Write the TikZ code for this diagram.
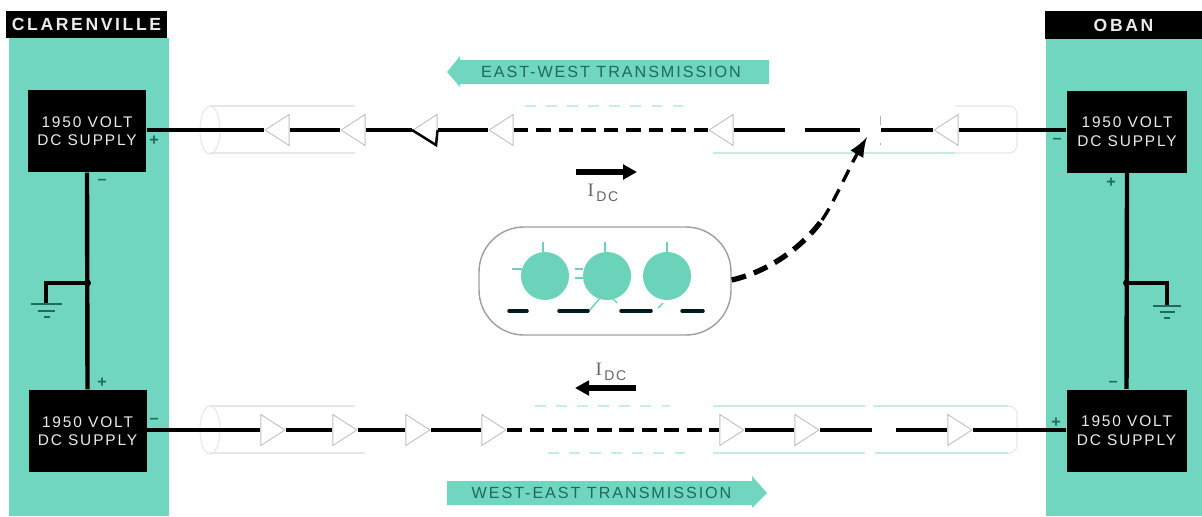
\documentclass[tikz,border=0pt]{standalone}
\usepackage{fontspec}
\usetikzlibrary{shapes.geometric,arrows.meta}
\newfontfamily\platefont[LetterSpace=12]{Liberation Sans}
\newfontfamily\headfont[LetterSpace=15]{Liberation Sans}
\newfontfamily\idcfont{Liberation Serif}
\definecolor{bandteal}{HTML}{70D6C0}
\definecolor{tubeteal}{HTML}{6AD3BA}
\definecolor{darkteal}{HTML}{1E6A5E}
\definecolor{palecable}{HTML}{E4E8E7}
\definecolor{tealcable}{HTML}{C4EEE4}
\tikzset{
  supply/.style={fill=black,text=white!92!black,minimum width=1.18cm,minimum height=0.82cm,inner sep=0,align=center,font=\platefont\fontsize{4.4}{5.3}\selectfont},
  header/.style={fill=black,text=white!92!black,minimum width=1.6cm,minimum height=0.275cm,inner sep=0,font=\headfont\bfseries\fontsize{5}{5}\selectfont},
  polarity/.style={text=darkteal,inner sep=0,font=\platefont\bfseries\fontsize{4.6}{5}\selectfont},
  amp/.style={isosceles triangle,isosceles triangle stretches,minimum width=0.31cm,minimum height=0.24cm,inner sep=0,draw=black!25,line width=0.25pt,anchor=apex},
  ampwest/.style={amp,shape border rotate=180},
  ampeast/.style={amp,shape border rotate=0},
  wire/.style={line width=1.25pt},
  wiredash/.style={line width=1.25pt,dash pattern=on 4.2pt off 2.2pt},
  cablepale/.style={palecable,line width=0.3pt},
  cableteal/.style={tealcable,line width=0.6pt},
  idcarrow/.style={line width=1.6pt,-{Triangle[length=1.4mm,width=1.45mm]}},
  idclabel/.style={text=black!60,inner sep=0,font=\platefont\fontsize{4}{5}\selectfont},
  bannertext/.style={text=darkteal,inner sep=0,font=\platefont\fontsize{4.6}{5}\selectfont},
  valve/.style={circle,fill=tubeteal,minimum size=0.48cm,inner sep=0},
  lead/.style={tubeteal,line width=0.4pt},
  plate/.style={black!80!teal,line width=1pt,line cap=round},
}
\newcommand{\idctext}{{\idcfont\fontsize{5.4}{5}\selectfont I}\,\raisebox{-1.5pt}{DC}}
\begin{document}
\begin{tikzpicture}
\useasboundingbox (0,0) rectangle (12.02,5.16);
% draw station bands
\fill[bandteal] (0.09,0) rectangle (1.69,4.78);
\fill[bandteal] (10.46,0) rectangle (12.02,4.78);
\node[header,minimum width=1.61cm] (clarenville) at (0.865,4.915) {CLARENVILLE};
\node[header,minimum width=1.57cm] (oban) at (11.235,4.91) {OBAN};
% draw supplies
\node[supply] (supplynw) at (0.87,3.85) {1950 VOLT\\DC SUPPLY};
\node[supply] (supplysw) at (0.875,0.85) {1950 VOLT\\DC SUPPLY};
\node[supply,minimum width=1.2cm] (supplyne) at (11.27,3.845) {1950 VOLT\\DC SUPPLY};
\node[supply,minimum width=1.2cm] (supplyse) at (11.265,0.855) {1950 VOLT\\DC SUPPLY};
\node[polarity] (plusnw) at (1.54,3.75) {+};
\node[polarity] (minusnw) at (1.02,3.34) {–};
\node[polarity] (plussw) at (1.02,1.33) {+};
\node[polarity] (minussw) at (1.54,0.95) {–};
\node[polarity] (minusne) at (10.57,3.75) {–};
\node[polarity] (plusne) at (11.11,3.33) {+};
\node[polarity] (minusse) at (11.13,1.32) {–};
\node[polarity] (plusse) at (10.56,0.93) {+};
% draw earth connections
\coordinate (joinw) at (0.875,2.33);
\coordinate (joine) at (11.265,2.33);
\coordinate (earthw) at (0.46,2.12);
\coordinate (earthe) at (11.67,2.10);
\draw[wire] (supplynw.south) -- (supplysw.north);
\draw[wire] (supplyne.south) -- (supplyse.north);
\fill (joinw) circle (0.035);
\fill (joine) circle (0.035);
\draw[line width=0.9pt] (joinw) -| (earthw);
\draw[line width=0.9pt] (joine) -| (earthe);
\draw[darkteal,line width=0.5pt] (0.31,2.12) -- (0.62,2.12);
\draw[darkteal,line width=0.5pt] (0.38,2.05) -- (0.55,2.05);
\draw[darkteal,line width=0.5pt] (0.44,1.99) -- (0.50,1.99);
\draw[darkteal,line width=0.5pt] (11.53,2.10) -- (11.81,2.10);
\draw[darkteal,line width=0.5pt] (11.60,2.04) -- (11.75,2.04);
\draw[darkteal,line width=0.5pt] (11.64,1.98) -- (11.70,1.98);
% draw cable outlines
\node[draw=palecable,line width=0.3pt,ellipse,minimum width=0.2cm,minimum height=0.48cm,inner sep=0] (cableendnw) at (2.10,3.86) {};
\node[draw=palecable,line width=0.3pt,ellipse,minimum width=0.2cm,minimum height=0.48cm,inner sep=0] (cableendsw) at (2.10,0.86) {};
\draw[cablepale] (2.10,4.10) -- (3.55,4.10);
\draw[cablepale] (2.10,3.63) -- (3.55,3.63);
\draw[cablepale] (2.10,1.10) -- (3.55,1.10);
\draw[cablepale] (2.10,0.63) -- (3.65,0.63);
\draw[cablepale,rounded corners=0.08cm] (9.55,4.10) -- (10.17,4.10) -- (10.17,3.63) -- (9.55,3.63);
\draw[cablepale,rounded corners=0.08cm] (9.55,1.10) -- (10.17,1.10) -- (10.17,0.63) -- (9.55,0.63);
\draw[cableteal,dashed] (5.25,4.10) -- (6.88,4.10);
\draw[cableteal] (7.13,3.63) -- (8.80,3.63);
\draw[cableteal,line width=0.3pt] (8.80,3.63) -- (9.55,3.63);
\draw[cableteal] (7.13,1.10) -- (8.65,1.10);
\draw[cableteal] (8.73,1.10) -- (10.08,1.10);
\draw[cableteal,line width=0.3pt] (7.13,0.63) -- (8.65,0.63);
\draw[cableteal,line width=0.3pt] (8.75,0.63) -- (10.08,0.63);
\draw[cableteal,dashed] (5.48,0.63) -- (6.90,0.63);
\draw[cableteal,dashed,line width=0.3pt] (5.35,1.10) -- (6.70,1.10);
% draw east-west line
\node[ampwest] (ampwa) at (2.64,3.86) {};
\node[ampwest] (ampwb) at (3.40,3.86) {};
\node[ampwest] (ampwc) at (4.12,3.86) {};
\node[ampwest] (ampwd) at (4.88,3.86) {};
\node[ampwest] (ampwe) at (7.08,3.86) {};
\node[ampwest] (ampwf) at (9.33,3.86) {};
\coordinate (breakwa) at (7.85,3.86);
\coordinate (breakwb) at (8.05,3.86);
\coordinate (breakwc) at (8.60,3.86);
\coordinate (breakwd) at (8.81,3.86);
\draw[wire] (supplynw.east |- ampwa.apex) -- (ampwa.apex);
\draw[wire] (ampwa.lower side) -- (ampwb.apex);
\draw[wire] (ampwb.lower side) -- (ampwc.apex);
\draw[wire] (ampwc.lower side) -- (ampwd.apex);
\draw[wiredash] (ampwd.lower side) -- (ampwe.apex);
\draw[wire] (ampwe.lower side) -- (breakwa);
\draw[wire] (breakwb) -- (breakwc);
\draw[wire] (breakwd) -- (ampwf.apex);
\draw[wire] (ampwf.lower side) -- (supplyne.west |- ampwf.lower side);
\draw[line width=0.7pt] (ampwc.apex) -- (4.36,3.71) -- (ampwc.lower side);
\draw[black!30,line width=0.25pt] (8.80,4.00) -- (8.80,3.91);
\draw[black!30,line width=0.25pt] (8.80,3.73) -- (8.80,3.71);
% draw west-east line
\node[ampeast] (ampea) at (2.86,0.86) {};
\node[ampeast] (ampeb) at (3.58,0.86) {};
\node[ampeast] (ampec) at (4.31,0.86) {};
\node[ampeast] (amped) at (5.07,0.86) {};
\node[ampeast] (ampee) at (7.45,0.86) {};
\node[ampeast] (ampef) at (8.20,0.86) {};
\node[ampeast] (ampeg) at (9.73,0.86) {};
\coordinate (breakea) at (8.72,0.86);
\coordinate (breakeb) at (8.96,0.86);
\coordinate (breakec) at (9.47,0.86);
\draw[wire] (supplysw.east |- ampea.lower side) -- (ampea.lower side);
\draw[wire] (ampea.apex) -- (ampeb.lower side);
\draw[wire] (ampeb.apex) -- (ampec.lower side);
\draw[wire] (ampec.apex) -- (amped.lower side);
\draw[wiredash] (amped.apex) -- (ampee.lower side);
\draw[wire] (ampee.apex) -- (ampef.lower side);
\draw[wire] (ampef.apex) -- (breakea);
\draw[wire] (breakeb) -- (breakec);
\draw[wire] (ampeg.apex) -- (supplyse.west |- ampeg.apex);
% draw transmission banners
\fill[bandteal] (4.47,4.44) -- (4.60,4.60) -- (4.60,4.56) -- (7.69,4.56) -- (7.69,4.32) -- (4.60,4.32) -- (4.60,4.29) -- cycle;
\node[bannertext] (eastwest) at (6.11,4.44) {EAST-WEST TRANSMISSION};
\fill[bandteal] (7.67,0.23) -- (7.52,0.40) -- (7.52,0.35) -- (4.47,0.35) -- (4.47,0.11) -- (7.52,0.11) -- (7.52,0.08) -- cycle;
\node[bannertext] (westeast) at (6.015,0.23) {WEST-EAST TRANSMISSION};
% draw current arrows
\coordinate (idctaila) at (5.76,3.44);
\coordinate (idcheada) at (6.37,3.44);
\coordinate (idctailb) at (6.36,1.28);
\coordinate (idcheadb) at (5.75,1.28);
\draw[idcarrow] (idctaila) -- (idcheada);
\draw[idcarrow] (idctailb) -- (idcheadb);
\node[idclabel,anchor=west] (idca) at (5.87,3.23) {\idctext};
\node[idclabel,anchor=west] (idcb) at (5.95,1.44) {\idctext};
% draw tube
\node[draw=black!38,line width=0.4pt,rounded corners=0.45cm,minimum width=2.52cm,minimum height=1.08cm,inner sep=0] (tube) at (6.05,2.35) {};
\draw[lead] (5.43,2.74) -- (5.43,2.64);
\draw[lead] (6.05,2.74) -- (6.05,2.64);
\draw[lead] (6.67,2.74) -- (6.67,2.64);
\draw[lead] (5.12,2.47) -- (5.22,2.47);
\draw[lead] (5.75,2.47) -- (5.83,2.47);
\draw[lead] (5.75,2.38) -- (5.83,2.38);
\draw[lead] (5.89,2.05) -- (6.00,2.18);
\draw[lead] (6.12,2.18) -- (6.17,2.13);
\draw[lead] (6.58,2.08) -- (6.63,2.13);
\node[valve] (valvea) at (5.45,2.40) {};
\node[valve] (valveb) at (6.07,2.40) {};
\node[valve] (valvec) at (6.67,2.40) {};
\draw[plate] (5.09,2.05) -- (5.27,2.05);
\draw[plate] (5.59,2.05) -- (5.88,2.05);
\draw[plate] (6.21,2.05) -- (6.51,2.05);
\draw[plate] (6.82,2.05) -- (7.03,2.05);
% draw disturbance path
\coordinate (pathmid) at (8.22,2.96);
\coordinate (pathend) at (8.67,3.79);
\draw[line width=1.5pt,dash pattern=on 4.2pt off 2.4pt] (tube.east |- 0,2.36) .. controls (7.75,2.46) and (8.07,2.75) .. (pathmid);
\draw[line width=0.95pt,dash pattern=on 3.8pt off 2.4pt,->,>=latex] (pathmid) .. controls (8.32,3.10) and (8.50,3.50) .. (pathend);
\end{tikzpicture}
\end{document}
